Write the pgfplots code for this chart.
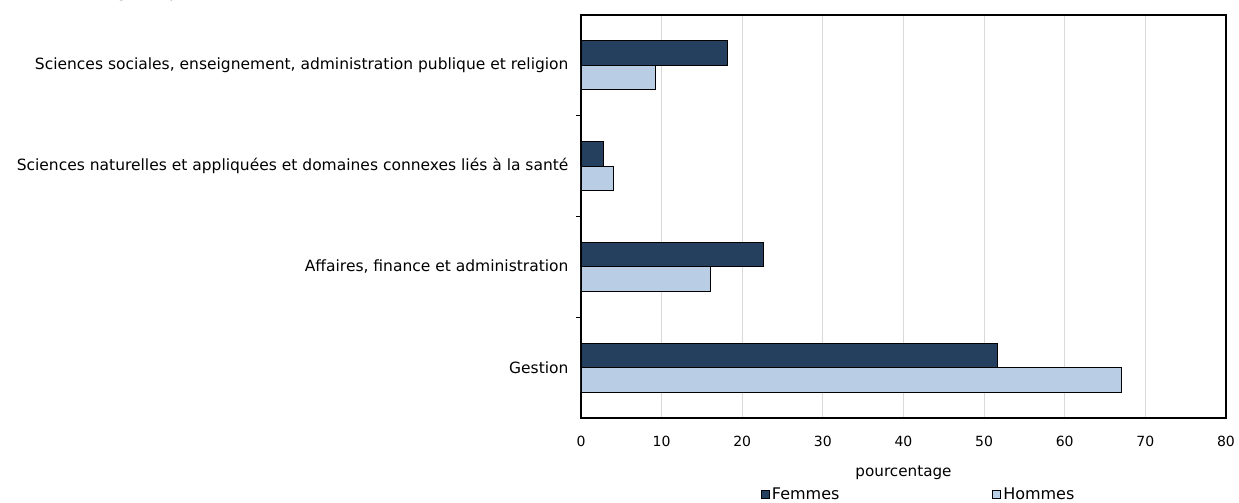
\documentclass[border=0pt]{standalone}
\usepackage{pgfplots}
\pgfplotsset{compat=1.18}
\usepackage{fontspec}
\setmainfont{DejaVu Sans}
\definecolor{femmes}{HTML}{253F5F}
\definecolor{hommes}{HTML}{B9CDE5}
\definecolor{gridc}{HTML}{D9D9D9}
\begin{document}
\begin{tikzpicture}
\path[use as bounding box] (-581bp,-85bp) rectangle (658bp,418bp);
\node[anchor=base west, inner sep=0pt, font=\fontsize{15.5bp}{17bp}\selectfont] at (-568bp,420bp) {Grandes catégories professionnelles};
\begin{axis}[
  at={(0,0)}, anchor=south west,
  scale only axis, width=645bp, height=403bp,
  xmin=0, xmax=80, ymin=-0.5, ymax=3.5,
  xtick={0,10,...,80},
  ytick={0,1,2,3},
  yticklabels={Gestion,{Affaires, finance et administration},{Sciences naturelles et appliquées et domaines connexes liés à la santé},{Sciences sociales, enseignement, administration publique et religion}},
  minor ytick={0.5,1.5,2.5},
  major tick length=0pt,
  minor tick length=5bp,
  tick align=inside,
  ytick pos=left, xtick pos=bottom,
  tick style={black, line width=0.8bp},
  xmajorgrids, grid style={gridc, line width=1bp},
  axis line style={black, line width=1.2bp},
  xticklabel style={font=\fontsize{14bp}{16bp}\selectfont, yshift=-15bp},
  yticklabel style={font=\fontsize{15.5bp}{17bp}\selectfont, xshift=-9bp},
  /pgf/number format/assume math mode=true,
  xlabel={pourcentage},
  xlabel style={font=\fontsize{15.2bp}{17bp}\selectfont, yshift=-12bp},
  xbar, bar width=24.5bp,
  legend columns=2,
  legend style={at={(0.279,-0.19)}, anchor=west, draw=none, inner sep=0pt, font=\fontsize{16bp}{18bp}\selectfont,
    /tikz/every even column/.append style={column sep=151bp}},
  legend image code/.code={\draw[#1, line width=0.8bp] (0bp,-4bp) rectangle (8bp,4bp);},
  clip=false,
]
\addplot[fill=femmes, draw=black, line width=0.8bp, bar shift=12.25bp] coordinates {(51.6,0) (22.6,1) (2.8,2) (18.2,3)};
\addplot[fill=hommes, draw=black, line width=0.8bp, bar shift=-12.25bp] coordinates {(67.0,0) (16.0,1) (4.0,2) (9.2,3)};
\legend{Femmes,Hommes}
\end{axis}
\end{tikzpicture}
\end{document}
